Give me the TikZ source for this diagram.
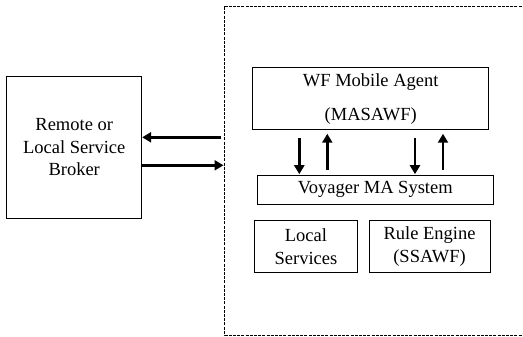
\documentclass[tikz,border=0pt]{standalone}
\usepackage{fontspec}
\setmainfont{Liberation Serif}
\usetikzlibrary{arrows.meta,calc}
\tikzset{
  box/.style={draw, line width=0.9pt, inner sep=0pt, align=center, font=\fontsize{18.5}{22.5}\selectfont},
  arr/.style={line width=2.6pt, -{Triangle[length=9pt,width=10pt]}},
  border/.style={line width=0.9pt, dash pattern=on 3pt off 1.2pt}
}
\begin{document}
\begin{tikzpicture}[x=1pt,y=-1pt]
\useasboundingbox (0,0) rectangle (523,337);
\draw[border] (530,6) -- (224.7,6) -- (224.7,335) -- (530,335);
\node[box, minimum width=135pt, minimum height=141.6pt] (broker) at (74.2,147.5) {Remote or\\Local Service\\Broker};
\node[box, minimum width=236pt, minimum height=62pt] (wf) at (370.7,98.7) {WF Mobile Agent\\[11.5pt](MASAWF)};
\node[box, minimum width=235.3pt, minimum height=28.3pt] (voy) at (375.3,189.8) {Voyager MA System};
\node[box, minimum width=102.6pt, minimum height=51.6pt] (loc) at (306,246.5) {Local\\Services};
\node[box, minimum width=121.3pt, minimum height=51.6pt] (rule) at (429.6,246.5) {Rule Engine\\(SSAWF)};
\coordinate (inL) at (221,137.3);
\coordinate (inR) at (223.5,165.3);
\draw[arr] (inL) -- (broker.east |- inL);
\draw[arr] (broker.east |- inR) -- (inR);
\draw[arr] ($(wf.south -| 299.3,0)+(0,8)$) -- ($(voy.north -| 299.3,0)+(0,-1)$);
\draw[arr] ($(voy.north -| 327.3,0)+(0,-5)$) -- ($(wf.south -| 327.3,0)+(0,3.6)$);
\draw[arr] ($(wf.south -| 415,0)+(0,8)$) -- ($(voy.north -| 415,0)+(0,-1)$);
\draw[arr] ($(voy.north -| 443,0)+(0,-5)$) -- ($(wf.south -| 443,0)+(0,3.6)$);
\end{tikzpicture}
\end{document}
